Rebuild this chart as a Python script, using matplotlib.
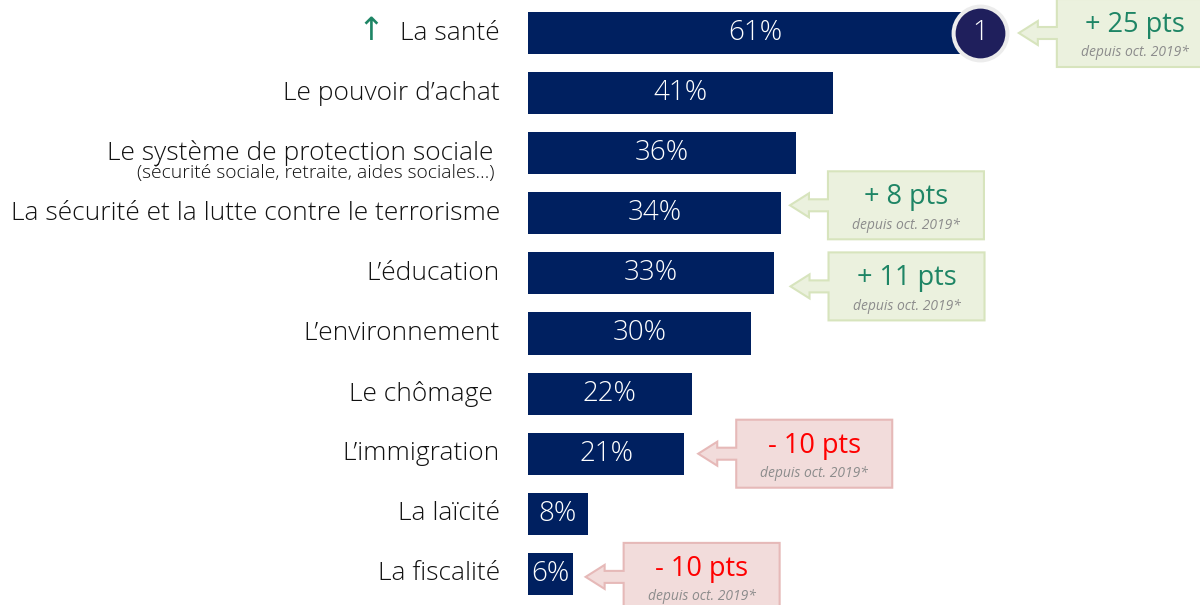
"""Priorités des Français : barres horizontales avec encarts d'évolution."""

import matplotlib.pyplot as plt
from matplotlib import transforms as mtransforms
from matplotlib.patches import Polygon

plt.rcParams['font.family'] = ['Open Sans', 'DejaVu Sans']

categories = [
    "La santé",
    "Le pouvoir d’achat",
    "Le système de protection sociale ",
    "La sécurité et la lutte contre le terrorisme",
    "L’éducation",
    "L’environnement",
    "Le chômage ",
    "L’immigration",
    "La laïcité",
    "La fiscalité",
]
values = [61, 41, 36, 34, 33, 30, 22, 21, 8, 6]
sub_labels = {2: "(sécurité sociale, retraite, aides sociales…)"}
change_rows = [0, 3, 4, 7, 9]
change_pts = [25, 8, 11, -10, -10]
change_note = "depuis oct. 2019*"
rank_row = 0
rank_label = "1"

# callout layout (pixels): tip offset from bar end, vertical shift
callout_dx = [37, 9, 17, 14, 13]
callout_dy = [0, -8, 13, 0, 3]

NAVY = "#002060"
GREEN_TXT = "#1e8565"
GREEN_FILL, GREEN_EDGE = "#ebf1de", "#d7e4bd"
RED_TXT = "#ff0000"
RED_FILL, RED_EDGE = "#f2dcdb", "#e6b9b8"

W, H, DPI = 1200, 605, 100
X0, PX_PER_PCT = 528, 7.44
TOP, ROW_PX = 33, 60.1

fig = plt.figure(figsize=(W / DPI, H / DPI), dpi=DPI)
ax = fig.add_axes([0, 0, 1, 1])
ax.set_xlim(-X0 / PX_PER_PCT, (W - X0) / PX_PER_PCT)
ax.set_ylim((H - TOP) / ROW_PX, -TOP / ROW_PX)
ax.axis("off")

rows = list(range(len(categories)))
ax.barh(rows, values, height=0.70, color=NAVY)

for i, (cat, v) in enumerate(zip(categories, values)):
    lab = ax.annotate(cat, (0, i), xytext=(-28, 0), textcoords="offset pixels",
                      ha="right", va="center", fontsize=19, fontweight="light",
                      color="#111111")
    if i == 0:
        ax.annotate("↑", xy=(0, 0.5), xycoords=lab, xytext=(-16, 1),
                    textcoords="offset pixels", ha="right", va="center",
                    fontsize=23, color=GREEN_TXT)
    if i in sub_labels:
        ax.annotate(sub_labels[i], (0, i), xytext=(-34, -20), textcoords="offset pixels",
                    ha="right", va="center", fontsize=13.9, fontweight="light",
                    color="#111111")
    ax.text(v / 2, i, f"{v}%", ha="center", va="center", fontsize=20,
            fontweight="light", color="white")

# rank badge
ax.scatter([values[rank_row] - 0.2], [rank_row], s=1500, color="#1f1f5c",
           edgecolor="#ececec", linewidth=2.9, zorder=4)
ax.text(values[rank_row] - 0.2, rank_row, rank_label, ha="center", va="center",
        fontsize=20, fontweight="light", color="white", zorder=5)

# evolution callouts
shape = [(0, 0), (19, 12), (19, 6), (38, 6), (38, 34), (194, 34),
         (194, -34), (38, -34), (38, -6), (19, -6), (19, -12)]
for row, pts, dx, dy in zip(change_rows, change_pts, callout_dx, callout_dy):
    up = pts > 0
    fill, edge, tc = (GREEN_FILL, GREEN_EDGE, GREEN_TXT) if up else (RED_FILL, RED_EDGE, RED_TXT)
    trans = fig.dpi_scale_trans + mtransforms.ScaledTranslation(values[row], row, ax.transData)
    verts = [((x + dx) / DPI, (y - dy) / DPI) for x, y in shape]
    ax.add_patch(Polygon(verts, closed=True, facecolor=fill, edgecolor=edge,
                         linewidth=1.5, transform=trans, zorder=3))
    label = f"+ {pts} pts" if up else f"- {abs(pts)} pts"
    ax.annotate(label, (values[row], row), xytext=(dx + 116, -dy + 8),
                textcoords="offset pixels", ha="center", va="center",
                fontsize=19.5, color=tc, zorder=4)
    ax.annotate(change_note, (values[row], row), xytext=(dx + 116, -dy - 20),
                textcoords="offset pixels", ha="center", va="center",
                fontsize=10, style="italic", color="#8c8c8c", zorder=4)

fig.savefig("out.png", dpi=DPI)
plt.close(fig)
